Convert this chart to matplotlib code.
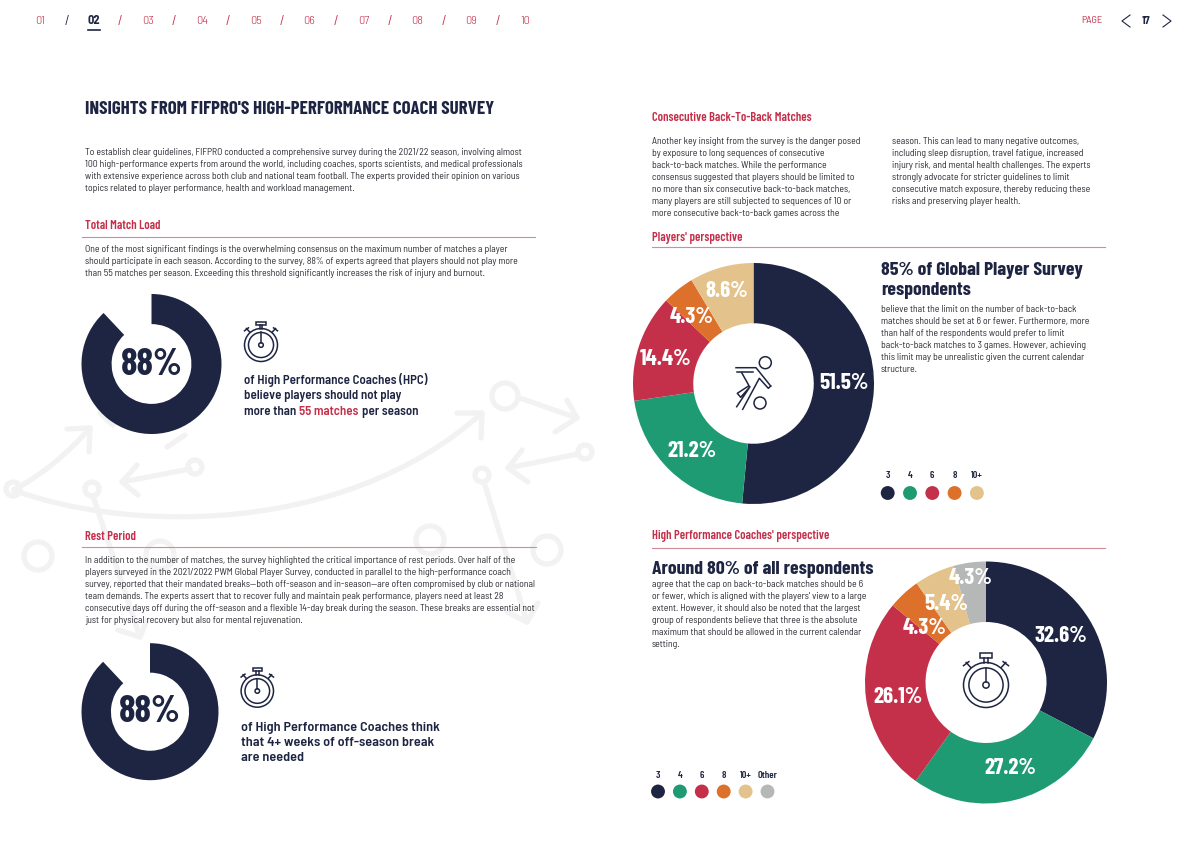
"""Infografía de la encuesta a preparadores físicos (página 17).

Dibuja la página completa con anillos, textos e iconos.

Uso:
  python3 plot.py
"""
from __future__ import annotations

import matplotlib.pyplot as plt
from matplotlib.patches import Circle, PathPatch, Rectangle
from matplotlib.path import Path

NAVY = "#1e2542"
GREEN = "#1f9b74"
RED = "#c4304a"
ORANGE = "#dd702a"
TAN = "#e3c38b"
GREY = "#b6b8b8"
RULE = "#d08c9a"
FIELD = "#f2f2f2"
BODY = "#2a2b33"

COND = ["Barlow Condensed", "Roboto", "DejaVu Sans"]
SEMI = ["Barlow Semi Condensed", "Roboto", "DejaVu Sans"]

nav_labels = ["01", "02", "03", "04", "05", "06", "07", "08", "09", "10"]

players_values = [51.5, 21.2, 14.4, 4.3, 8.6]
players_legend = ["3", "4", "6", "8", "10+"]
players_colors = [NAVY, GREEN, RED, ORANGE, TAN]

coaches_values = [32.6, 27.2, 26.1, 4.3, 5.4, 4.3]
coaches_legend = ["3", "4", "6", "8", "10+", "Other"]
coaches_colors = [NAVY, GREEN, RED, ORANGE, TAN, GREY]

match_load_values = [88, 12]
off_season_values = [88, 12]

intro_lines = [
    "To establish clear guidelines, FIFPRO conducted a comprehensive survey during the 2021/22 season, involving almost",
    "100 high-performance experts from around the world, including coaches, sports scientists, and medical professionals",
    "with extensive experience across both club and national team football. The experts provided their opinion on various",
    "topics related to player performance, health and workload management.",
]
load_lines = [
    "One of the most significant findings is the overwhelming consensus on the maximum number of matches a player",
    "should participate in each season. According to the survey, 88% of experts agreed that players should not play more",
    "than 55 matches per season. Exceeding this threshold significantly increases the risk of injury and burnout.",
]
rest_lines = [
    "In addition to the number of matches, the survey highlighted the critical importance of rest periods. Over half of the",
    "players surveyed in the 2021/2022 PWM Global Player Survey, conducted in parallel to the high-performance coach",
    "survey, reported that their mandated breaks—both off-season and in-season—are often compromised by club or national",
    "team demands. The experts assert that to recover fully and maintain peak performance, players need at least 28",
    "consecutive days off during the off-season and a flexible 14-day break during the season. These breaks are essential not",
    "just for physical recovery but also for mental rejuvenation.",
]
back_left_lines = [
    "Another key insight from the survey is the danger posed",
    "by exposure to long sequences of consecutive",
    "back-to-back matches. While the performance",
    "consensus suggested that players should be limited to",
    "no more than six consecutive back-to-back matches,",
    "many players are still subjected to sequences of 10 or",
    "more consecutive back-to-back games across the",
]
back_right_lines = [
    "season. This can lead to many negative outcomes,",
    "including sleep disruption, travel fatigue, increased",
    "injury risk, and mental health challenges. The experts",
    "strongly advocate for stricter guidelines to limit",
    "consecutive match exposure, thereby reducing these",
    "risks and preserving player health.",
]
players_lines = [
    "believe that the limit on the number of back-to-back",
    "matches should be set at 6 or fewer. Furthermore, more",
    "than half of the respondents would prefer to limit",
    "back-to-back matches to 3 games. However, achieving",
    "this limit may be unrealistic given the current calendar",
    "structure.",
]
coaches_lines = [
    "agree that the cap on back-to-back matches should be 6",
    "or fewer, which is aligned with the players' view to a large",
    "extent. However, it should also be noted that the largest",
    "group of respondents believe that three is the absolute",
    "maximum that should be allowed in the current calendar",
    "setting.",
]


def donut(fig, cx, cy, r, values, colors, hole):
    # Eje propio en píxeles de la imagen
    ax = fig.add_axes([(cx - r) / 1190, 1 - (cy + r) / 841, 2 * r / 1190, 2 * r / 841], zorder=1)
    ax.pie(values, colors=colors, startangle=90, counterclock=False, radius=1,
           wedgeprops={"width": 1 - hole, "linewidth": 0})
    ax.set_xlim(-1, 1)
    ax.set_ylim(-1, 1)
    ax.patch.set_visible(False)
    return ax


def paragraph(ax, x, y, lines, step=12.05, size=7.0):
    for i, line in enumerate(lines):
        ax.text(x, y + 0.7 + i * step, line, fontsize=size, color=BODY, family=SEMI, va="center")


def heading(ax, x, y, text):
    ax.text(x, y + 1.5, text, fontsize=9.0, color=RED, family=COND, weight=600, va="center")


def stopwatch(ax, cx, cy, r, lw=1.1):
    ax.add_patch(Circle((cx, cy), r, fill=False, ec=NAVY, lw=lw))
    ax.add_patch(Circle((cx, cy), r * 0.76, fill=False, ec=NAVY, lw=lw))
    ax.add_patch(Circle((cx, cy), r * 0.14, fill=False, ec=NAVY, lw=lw))
    ax.plot([cx, cx], [cy - r * 0.14, cy - r * 0.76], color=NAVY, lw=lw)
    ax.plot([cx - r * 0.08, cx - r * 0.08], [cy - r, cy - r * 1.22], color=NAVY, lw=lw)
    ax.plot([cx + r * 0.08, cx + r * 0.08], [cy - r, cy - r * 1.22], color=NAVY, lw=lw)
    ax.add_patch(Rectangle((cx - r * 0.28, cy - r * 1.42), r * 0.56, r * 0.2, fill=False, ec=NAVY, lw=lw))
    for s in (-1, 1):
        ax.plot([cx + s * r * 0.68, cx + s * r * 0.88], [cy - r * 0.78, cy - r * 1.0], color=NAVY, lw=lw)
        ax.plot([cx + s * r * 0.76, cx + s * r * 1.0], [cy - r * 1.04, cy - r * 0.86], color=NAVY, lw=lw)


def player_icon(ax, lw=1.1):
    ax.add_patch(Circle((765.3, 362.7), 6, fill=False, ec=NAVY, lw=lw))
    ax.add_patch(Circle((760, 403), 6, fill=False, ec=NAVY, lw=lw))
    ax.plot([736, 756, 770.7], [367.7, 367.7, 386], color=NAVY, lw=lw)
    ax.plot([736.7, 753.3], [372.3, 372.3], color=NAVY, lw=lw)
    ax.plot([741.7, 749, 737.3, 740.7, 750, 736.7], [372.7, 385.7, 393.3, 397.3, 386.7, 406.7], color=NAVY, lw=lw)
    ax.plot([742.7, 759.3, 768.3, 770.7], [409.3, 378.3, 388.3, 386], color=NAVY, lw=lw)


def field_line(ax, xs, ys, lw=3.8):
    ax.plot(xs, ys, color=FIELD, lw=lw, solid_capstyle="round", solid_joinstyle="round")


def field_marks(ax):
    # Fondo: jugadas de pizarra muy tenues
    arc = Path([(13.5, 490), (120, 530), (340, 540), (482, 413)],
               [Path.MOVETO, Path.CURVE4, Path.CURVE4, Path.CURVE4])
    ax.add_patch(PathPatch(arc, fill=False, ec=FIELD, lw=3.8, capstyle="round"))
    wing = Path([(13.5, 490), (55, 468), (90, 428)], [Path.MOVETO, Path.CURVE3, Path.CURVE3])
    ax.add_patch(PathPatch(wing, fill=False, ec=FIELD, lw=3.8, capstyle="round"))
    field_line(ax, [457, 482, 481], [413, 413, 438])
    field_line(ax, [67, 90, 89], [429, 428, 452])
    field_line(ax, [167, 185], [447, 435])
    field_line(ax, [100, 113], [413, 425])
    field_line(ax, [190, 122], [469, 482])
    field_line(ax, [137, 122, 138], [465, 482, 495])
    field_line(ax, [93, 110, 140], [496, 547, 637])
    field_line(ax, [118, 140, 147], [630, 637, 620])
    field_line(ax, [520, 577], [398, 418])
    field_line(ax, [567, 577, 555], [400, 418, 432])
    field_line(ax, [578, 508], [454, 468])
    field_line(ax, [522, 508, 528], [450, 468, 482])
    field_line(ax, [484, 527], [482, 622])
    field_line(ax, [507, 527, 538], [612, 622, 603])
    for x, y, r in [(13, 489, 7), (195, 467, 7), (92, 489, 7), (38, 556, 14), (160, 555, 14),
                    (430, 540, 14), (547, 550, 14), (505, 396, 13), (585, 452, 7), (482, 475, 7)]:
        ax.add_patch(Circle((x, y), r, fill=False, ec=FIELD, lw=3.8))


def main() -> None:
    fig = plt.figure(figsize=(11.9, 8.41), dpi=100)

    bg = fig.add_axes([0, 0, 1, 1], zorder=0)
    bg.set_xlim(0, 1190)
    bg.set_ylim(841, 0)
    bg.axis("off")
    field_marks(bg)

    donut(fig, 151.5, 364, 70, match_load_values, [NAVY, "none"], 0.57)
    donut(fig, 150, 711.7, 68.5, off_season_values, [NAVY, "none"], 0.57)
    donut(fig, 753.5, 383.5, 120.5, players_values, players_colors, 0.5)
    donut(fig, 986, 682.5, 121, coaches_values, coaches_colors, 0.5)

    ax = fig.add_axes([0, 0, 1, 1], zorder=2)
    ax.set_xlim(0, 1190)
    ax.set_ylim(841, 0)
    ax.axis("off")

    # Navegación superior
    for i, label in enumerate(nav_labels):
        x = 40 + i * 53.9
        active = label == "02"
        ax.text(x, 20.5, label, fontsize=8.8, family=SEMI, ha="center", va="center",
                color=NAVY if active else RED, weight="bold" if active else 300)
        if i < len(nav_labels) - 1:
            ax.text(x + 26.5, 21, "/", fontsize=9, family=SEMI, ha="center", va="center",
                    color=NAVY if i == 0 else RED)
    ax.plot([88, 100], [30, 30], color=NAVY, lw=1.2)
    ax.text(1092, 20.5, "PAGE", fontsize=7.4, family=SEMI, color=RED, ha="center", va="center")
    ax.plot([1130, 1122, 1130], [15, 21, 27], color=NAVY, lw=0.8)
    ax.plot([1163, 1171, 1163], [15, 21, 27], color=NAVY, lw=0.8)
    ax.text(1146, 20.5, "17", fontsize=8, family=SEMI, weight="bold", color=NAVY, ha="center", va="center")

    ax.text(85, 109.5, "INSIGHTS FROM FIFPRO'S HIGH-PERFORMANCE COACH SURVEY", fontsize=13.6,
            family=COND, weight="bold", color=NAVY, va="center")

    # Columna izquierda
    paragraph(ax, 85, 152, intro_lines)
    heading(ax, 85, 224, "Total Match Load")
    ax.plot([82, 535], [236.5, 236.5], color=RULE, lw=0.8)
    paragraph(ax, 85, 248.5, load_lines)
    heading(ax, 85, 535, "Rest Period")
    ax.plot([82, 536], [547, 547], color=RULE, lw=0.8)
    paragraph(ax, 85, 560, rest_lines)

    # Anillos de 88 %
    ax.text(151.5, 365, f"{match_load_values[0]}%", fontsize=27, family=COND, weight="bold",
            color=NAVY, ha="center", va="center")
    ax.text(150, 712, f"{off_season_values[0]}%", fontsize=27, family=COND, weight="bold",
            color=NAVY, ha="center", va="center")
    stopwatch(ax, 261, 345, 16.5)
    stopwatch(ax, 257.3, 691, 16.2)

    style = {"fontsize": 9.3, "family": SEMI, "weight": 600, "va": "center"}
    ax.text(244, 380, "of High Performance Coaches (HPC)", color=NAVY, **style)
    ax.text(244, 396, "believe players should not play", color=NAVY, **style)
    first = ax.text(244, 412, "more than", color=NAVY, **style)
    fig.canvas.draw()
    x1 = ax.transData.inverted().transform(first.get_window_extent().get_points())[1, 0] + 3
    second = ax.text(x1, 412, "55 matches", color=RED, **style)
    x2 = ax.transData.inverted().transform(second.get_window_extent().get_points())[1, 0] + 3
    ax.text(x2, 412, "per season", color=NAVY, **style)
    style["fontsize"] = 10.2
    ax.text(241, 728, "of High Performance Coaches think", color=NAVY, **style)
    ax.text(241, 743, "that 4+ weeks of off-season break", color=NAVY, **style)
    ax.text(241, 758, "are needed", color=NAVY, **style)

    # Columna derecha
    heading(ax, 652, 116, "Consecutive Back-To-Back Matches")
    paragraph(ax, 652, 141, back_left_lines, step=11.9)
    paragraph(ax, 892, 141, back_right_lines, step=11.9)
    heading(ax, 652, 236, "Players' perspective")
    ax.plot([652, 1105], [246.5, 246.5], color=RULE, lw=0.8)
    heading(ax, 652, 535, "High Performance Coaches' perspective")
    ax.plot([652, 1105], [547.5, 547.5], color=RULE, lw=0.8)

    big = {"fontsize": 14.2, "family": COND, "weight": "bold", "color": NAVY, "va": "center"}
    ax.text(881, 270.5, "85% of Global Player Survey", **big)
    ax.text(881, 290.5, "respondents", **big)
    paragraph(ax, 881, 309, players_lines)
    ax.text(652, 569.5, "Around 80% of all respondents", **big)
    paragraph(ax, 652, 584, coaches_lines)

    # Etiquetas de los anillos
    players_pos = [(844, 383), (692, 451), (666, 359), (692, 317), (727, 291)]
    coaches_pos = [(1061, 636), (1010, 768), (898, 697), (925, 628), (946, 604), (971, 578)]
    for value, (x, y) in zip(players_values + coaches_values, players_pos + coaches_pos):
        ax.text(x, y, f"{value}%", fontsize=16.5, family=COND, weight="bold", color="white",
                ha="center", va="center")
    player_icon(ax)
    stopwatch(ax, 986, 685, 22.5)

    # Leyendas
    for labels, colors, x0, step, y_txt, y_dot in [
        (players_legend, players_colors, 887.7, 22.3, 475, 493),
        (coaches_legend, coaches_colors, 658, 21.9, 775, 791.5),
    ]:
        xs = [x0 + i * step for i in range(len(labels))]
        ax.scatter(xs, [y_dot] * len(xs), s=100, c=colors, linewidths=0)
        for x, label in zip(xs, labels):
            ax.text(x, y_txt + 0.5, label, fontsize=7.4, family=COND, weight=600, color=NAVY,
                    ha="center", va="center")

    fig.savefig("out.png", dpi=100)
    plt.close(fig)


if __name__ == "__main__":
    main()
